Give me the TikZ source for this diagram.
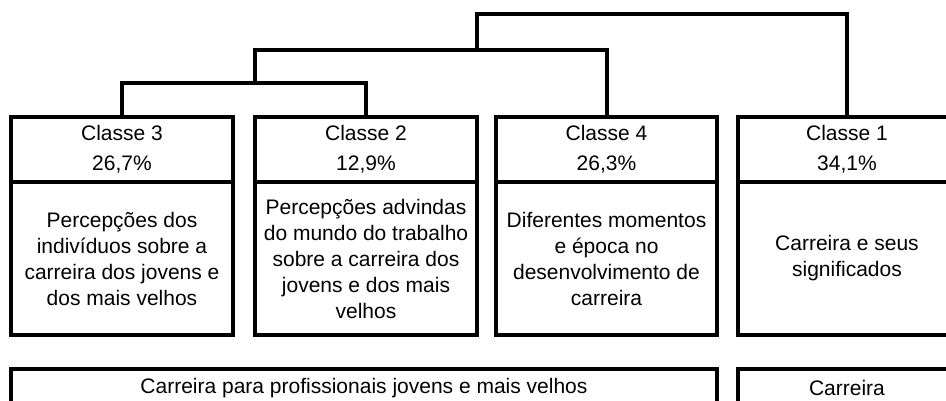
\documentclass[tikz,border=0pt]{standalone}
\usepackage{fontspec}
\setmainfont{Liberation Sans}
\begin{document}
\begin{tikzpicture}[x=1pt,y=-1pt,
  box/.style={draw=black,line width=4pt,rectangle,inner sep=0pt,align=center},
  head/.style={box,minimum height=65pt,font=\fontsize{21}{30}\selectfont},
  body/.style={box,minimum height=153pt,font=\fontsize{21}{26}\selectfont},
  foot/.style={box,minimum height=38pt,font=\fontsize{21}{26}\selectfont},
  link/.style={draw=black,line width=4pt}]
\useasboundingbox (0,0) rectangle (946,400);
% headers
\node[head,minimum width=222pt] (h3) at (122,149.5) {Classe 3\\26,7\%};
\node[head,minimum width=222pt] (h2) at (366,149.5) {Classe 2\\12,9\%};
\node[head,minimum width=221pt] (h4) at (606.5,149.5) {Classe 4\\26,3\%};
\node[head,minimum width=218pt] (h1) at (847,149.5) {Classe 1\\34,1\%};
% bodies
\node[body,minimum width=222pt] (b3) at (122,258.5) {Percepções dos\\indivíduos sobre a\\carreira dos jovens e\\dos mais velhos};
\node[body,minimum width=222pt] (b2) at (366,258.5) {Percepções advindas\\do mundo do trabalho\\sobre a carreira dos\\jovens e dos mais\\velhos};
\node[body,minimum width=221pt] (b4) at (606.5,258.5) {Diferentes momentos\\e época no\\desenvolvimento de\\carreira};
\node[body,minimum width=218pt] (b1) at (847,258.5) {Carreira e seus\\significados};
% footers
\node[foot,minimum width=706pt] (f1) at (364,388) {Carreira para profissionais jovens e mais velhos};
\node[foot,minimum width=218pt] (f2) at (847,388) {Carreira};
% dendrogram
\coordinate (j32) at (255,83);
\coordinate (j324) at (477,50);
\coordinate (jtop) at (477,14);
\draw[link] (h3.north) |- (j32) -| (h2.north);
\draw[link] (j32) |- (j324) -| (h4.north);
\draw[link] (j324) -- (jtop) -| (h1.north);
\end{tikzpicture}
\end{document}
